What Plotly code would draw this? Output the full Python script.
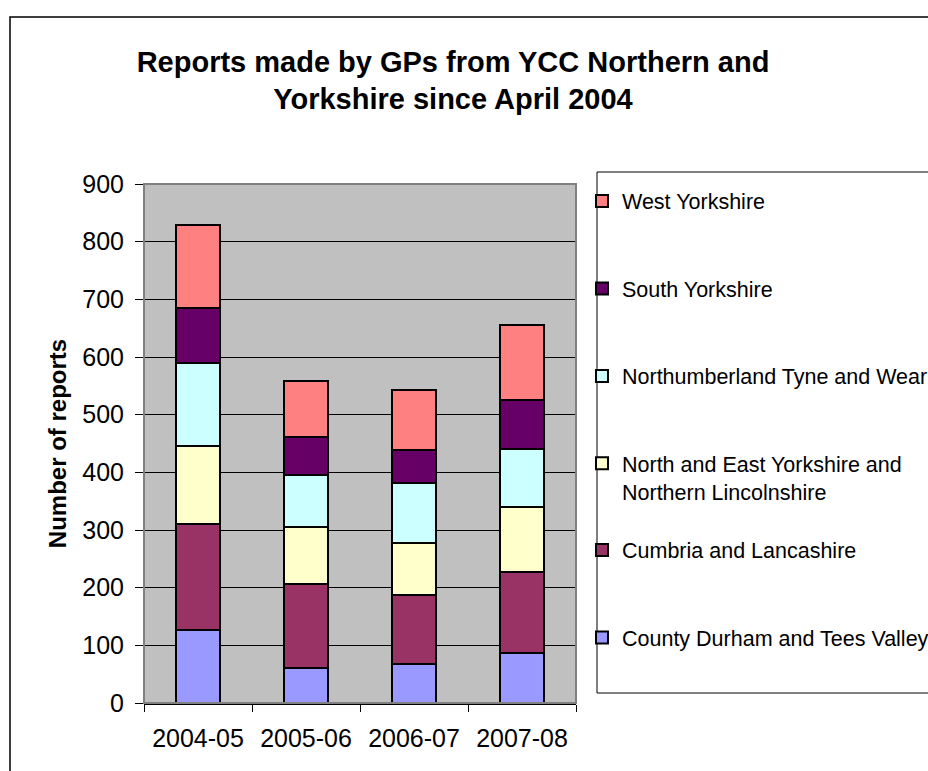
import plotly.graph_objects as go

# ---- data ----
years = ["2004-05", "2005-06", "2006-07", "2007-08"]
series_names = [
    "County Durham and Tees Valley",
    "Cumbria and Lancashire",
    "North and East Yorkshire and<br>Northern Lincolnshire",
    "Northumberland Tyne and Wear",
    "South Yorkshire",
    "West Yorkshire",
]
county_durham = [126, 61, 67, 87]
cumbria_lancashire = [185, 145, 120, 140]
north_east_yorks = [134, 99, 91, 113]
northumberland = [145, 90, 103, 101]
south_yorkshire = [95, 67, 58, 85]
west_yorkshire = [144, 97, 103, 129]
y_ticks = [0, 100, 200, 300, 400, 500, 600, 700, 800, 900]

values = [county_durham, cumbria_lancashire, north_east_yorks,
          northumberland, south_yorkshire, west_yorkshire]
colors = ["#9999FF", "#993366", "#FFFFCC", "#CCFFFF", "#660066", "#FF8080"]
legend_ids = ["legend2", "legend2", "legend", "legend", "legend", "legend"]
legend_ranks = [6, 5, 4, 3, 2, 1]

FONT = "Liberation Sans, Arial, sans-serif"
W, H = 928, 771
L, R, T, B = 144, 352, 184, 68
pw, ph = W - L - R, H - T - B


def cx(p):                   # screen px -> container x
    return p / W


def cy(p):                   # screen px -> container y
    return 1 - p / H


def px_x(p):                 # screen px -> paper x
    return (p - L) / pw


def px_y(p):                 # screen px -> paper y
    return (H - B - p) / ph


fig = go.Figure()
for name, vals, col, lg, rk in zip(series_names, values, colors, legend_ids, legend_ranks):
    fig.add_trace(go.Bar(
        x=years, y=vals, name=name,
        marker=dict(color=col, line=dict(color="black", width=2)),
        legend=lg, legendgroup=name, legendrank=rk,
    ))

legend_common = dict(
    xref="container", yref="container", xanchor="left", yanchor="top",
    bgcolor="rgba(0,0,0,0)", borderwidth=0,
    font=dict(family=FONT, size=21.5, color="black"),
    traceorder="grouped", tracegroupgap=56.5, valign="top",
)

fig.update_layout(
    width=W, height=H,
    margin=dict(l=L, r=R, t=T, b=B, autoexpand=False),
    paper_bgcolor="white", plot_bgcolor="#C0C0C0",
    barmode="stack", bargap=0.593,
    font=dict(family=FONT, color="black"),
    title=dict(
        text="Reports made by GPs from YCC Northern and<br>Yorkshire since April 2004",
        xref="container", yref="container", x=cx(453), xanchor="center",
        y=cy(71.5), yanchor="middle",
        font=dict(family=FONT, size=29, color="black", weight="bold"),
    ),
    legend=dict(x=cx(582), y=cy(180.5), **legend_common),
    legend2=dict(x=cx(582), y=cy(529.5), **legend_common),
    xaxis=dict(
        type="category", tickson="boundaries", ticks="outside", ticklen=7,
        tickcolor="black", tickwidth=1, showline=True, linecolor="black",
        linewidth=2, showgrid=False, ticklabelstandoff=12,
        tickfont=dict(family=FONT, size=25, color="black"),
    ),
    yaxis=dict(
        range=[0, 900], tickvals=y_ticks, ticks="outside", ticklen=8,
        tickcolor="black", tickwidth=1, showline=False, showgrid=True,
        gridcolor="black", gridwidth=1, zeroline=False, ticklabelstandoff=6,
        tickfont=dict(family=FONT, size=25, color="black"),
        title=dict(text="Number of reports", standoff=8,
                   font=dict(family=FONT, size=24, color="black", weight="bold")),
    ),
    shapes=[
        # plot-area border
        dict(type="rect", xref="paper", yref="paper", x0=0, x1=1, y0=0, y1=1,
             line=dict(color="#808080", width=2), layer="above"),
        # legend box
        dict(type="rect", xref="paper", yref="paper",
             x0=px_x(597), x1=px_x(960), y0=px_y(693), y1=px_y(172),
             line=dict(color="black", width=1)),
        # outer chart border
        dict(type="rect", xref="paper", yref="paper",
             x0=px_x(10), x1=px_x(980), y0=px_y(800), y1=px_y(17),
             line=dict(color="black", width=1.5)),
    ],
)

fig.write_html(
    "out.html",
    config={"displayModeBar": False},
    post_script="document.body.style.margin='0';document.body.style.overflow='hidden';",
)
